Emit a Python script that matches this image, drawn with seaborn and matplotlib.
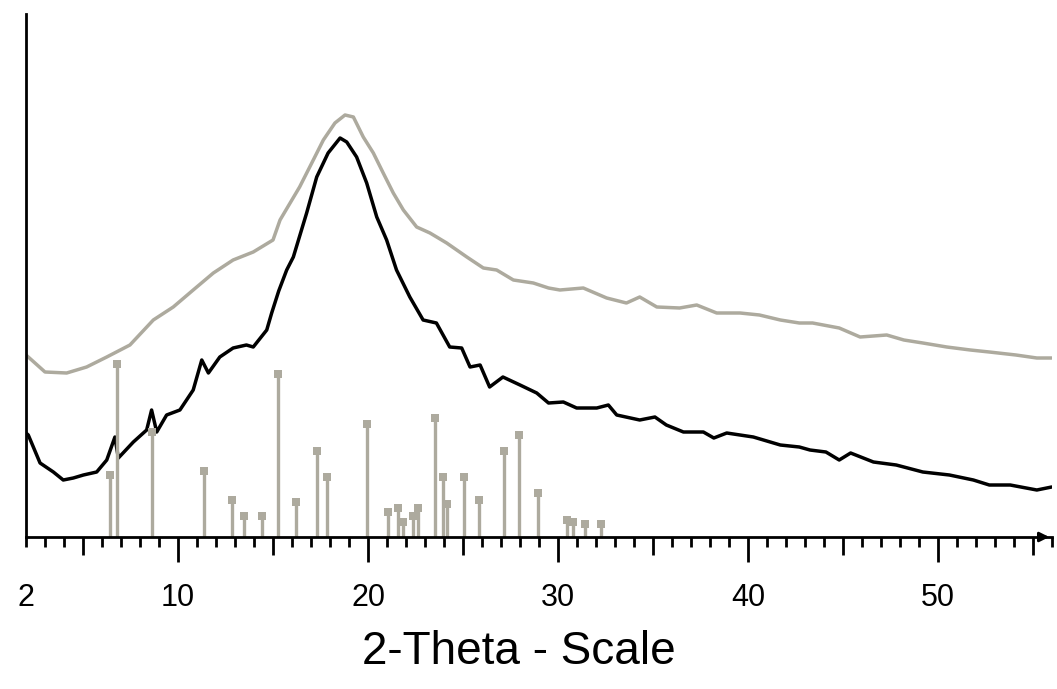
import matplotlib
matplotlib.use("Agg")
import matplotlib.pyplot as plt
import seaborn as sns
import pandas as pd
from matplotlib.ticker import FixedLocator, FixedFormatter

# ---- data ----
black_x = [2.0, 2.12, 2.74, 3.44, 3.96, 4.49, 5.02, 5.72, 6.25, 6.68, 6.86, 7.65, 8.35, 8.61, 8.88,
           9.4, 10.1, 10.8, 11.25, 11.6, 12.2, 12.9, 13.6, 13.96, 14.67, 14.93, 15.3, 15.72, 16.07,
           16.77, 17.3, 17.9, 18.53, 18.88, 19.4, 19.93, 20.46, 20.98, 21.5, 22.2, 22.9, 23.6, 24.3,
           24.93, 25.37, 25.9, 26.4, 27.1, 28.0, 28.88, 29.5, 30.28, 30.98, 32.04, 32.65, 33.09, 34.3,
           35.1, 35.7, 36.6, 37.65, 38.2, 38.88, 40.28, 41.7, 42.7, 43.26, 44.1, 44.8, 45.4, 46.6,
           47.8, 49.2, 50.6, 51.86, 52.7, 53.8, 55.2, 55.98]
black_y = [104, 102, 74, 65, 57, 59, 62, 65, 77, 100, 79, 95, 107, 127, 105,
           122, 127, 147, 177, 164, 180, 189, 192, 190, 207, 224, 246, 267, 280,
           324, 360, 384, 399, 395, 380, 354, 320, 297, 267, 240, 217, 214, 190,
           189, 170, 172, 150, 160, 152, 144, 134, 135, 129, 129, 132, 122, 117,
           120, 112, 105, 105, 99, 104, 100, 92, 90, 87, 85, 77, 84, 75,
           72, 65, 62, 57, 52, 52, 47, 50]

gray_x = [2.0, 2.12, 3.0, 4.14, 5.19, 6.25, 7.47, 8.7, 9.75, 10.8, 11.86, 12.9, 13.96, 15.0, 15.37,
          15.9, 16.4, 17.12, 17.65, 18.26, 18.79, 19.23, 19.75, 20.28, 20.8, 21.33, 21.86, 22.56,
          23.26, 24.14, 25.2, 26.07, 26.77, 27.65, 28.7, 29.5, 30.1, 31.33, 32.56, 33.6, 34.3, 35.2,
          36.4, 37.3, 38.35, 39.58, 40.6, 41.7, 42.7, 43.4, 44.8, 45.9, 47.3, 48.2, 49.2, 50.46,
          51.7, 52.7, 54.1, 55.2, 55.98]
gray_y = [182, 180, 165, 164, 170, 180, 192, 217, 230, 247, 264, 277, 285, 297, 317,
          334, 350, 377, 397, 414, 422, 420, 400, 384, 364, 344, 327, 310,
          304, 294, 280, 269, 267, 257, 254, 249, 247, 249, 239, 234, 240, 230,
          229, 232, 224, 224, 222, 217, 214, 214, 209, 200, 202, 197, 194, 190,
          187, 185, 182, 179, 179]

stick_pos = [6.42, 6.77, 8.63, 11.38, 12.86, 13.49, 14.4, 15.28, 16.23, 17.3, 17.86, 19.93,
             21.07, 21.6, 21.82, 22.35, 22.65, 23.51, 23.93, 24.14, 25.07, 25.84, 27.14, 27.93,
             28.93, 30.46, 30.77, 31.42, 32.26]
stick_int = [62, 173, 105, 66, 37, 21, 21, 163, 35, 86, 60, 113,
             25, 29, 15, 21, 29, 119, 60, 33, 60, 37, 86, 102,
             44, 17, 15, 13, 13]

major_ticks = [10, 20, 30, 40, 50]
tick_labels = ["10", "20", "30", "40", "50"]
mid_ticks = [5, 15, 25, 35, 45, 55]
start_tick, start_label = 2, "2"
x_title = "2-Theta - Scale"

GRAY = "#ADAA9E"

sns.set_style("white")
plt.rcParams["font.family"] = ["Liberation Sans", "DejaVu Sans"]
plt.rcParams["text.color"] = "black"

fig = plt.figure(figsize=(10.57, 6.89), dpi=100)
ax = fig.add_axes([0.0246, 0.2206, 0.9707, 0.7591])

df_b = pd.DataFrame({"x": black_x, "y": black_y})
df_g = pd.DataFrame({"x": gray_x, "y": gray_y})
df_s = pd.DataFrame({"x": stick_pos, "y": stick_int})

sns.lineplot(data=df_g, x="x", y="y", ax=ax, color=GRAY, lw=2.5, sort=False)
sns.lineplot(data=df_b, x="x", y="y", ax=ax, color="black", lw=2.5, sort=False)
ax.vlines(df_s["x"], 0, df_s["y"], color=GRAY, lw=2.4)
sns.scatterplot(data=df_s, x="x", y="y", ax=ax, marker="s", s=40, color=GRAY,
                edgecolor=GRAY, linewidth=0, zorder=3)

ax.set_xlim(2, 56)
ax.set_ylim(0, 523)
for s in ["top", "right"]:
    ax.spines[s].set_visible(False)
for s in ["left", "bottom"]:
    ax.spines[s].set_color("black")
    ax.spines[s].set_linewidth(2.0)
ax.set_yticks([])
ax.set_ylabel("")

# ticks
ax.xaxis.set_major_locator(FixedLocator(major_ticks))
ax.xaxis.set_major_formatter(FixedFormatter(tick_labels))
minor_pos = [v for v in range(2, 57) if v % 5 != 0]
ax.xaxis.set_minor_locator(FixedLocator(minor_pos))
ax.xaxis.set_minor_formatter(FixedFormatter([start_label if v == start_tick else "" for v in minor_pos]))
ax.tick_params(axis="x", which="both", bottom=True, direction="out", width=2.0,
               color="black", labelcolor="black", labelsize=22)
ax.tick_params(axis="x", which="major", length=18, pad=15)
ax.tick_params(axis="x", which="minor", length=7.2, pad=25.8)
for m in mid_ticks:
    ax.plot([m], [0], marker=3, markersize=13, mew=2.0, color="black",
            clip_on=False)

ax.set_xlabel(x_title, fontsize=33, color="black")
ax.xaxis.set_label_coords(0.4805, -0.178)

# arrow head at right end of x axis
ax.annotate("", xy=(1.0, 0), xytext=(0.985, 0), xycoords="axes fraction",
            arrowprops=dict(arrowstyle="-|>", color="black", lw=2.0, mutation_scale=14),
            annotation_clip=False)

fig.savefig("out.png", dpi=100, facecolor="white")
